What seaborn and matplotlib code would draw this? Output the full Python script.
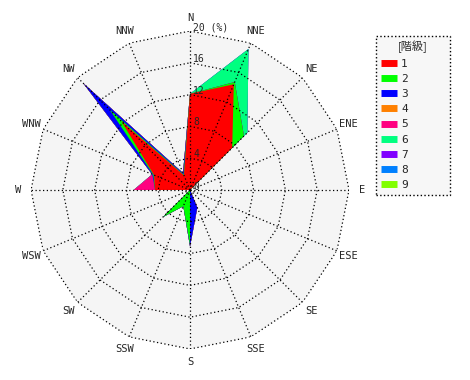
import numpy as np
import pandas as pd
import seaborn as sns
import matplotlib.pyplot as plt
from matplotlib.lines import Line2D
from matplotlib.font_manager import FontProperties

# Directions, clockwise from north
directions = ['N', 'NNE', 'NE', 'ENE', 'E', 'ESE', 'SE', 'SSE',
              'S', 'SSW', 'SW', 'WSW', 'W', 'WNW', 'NW', 'NNW']

# Frequency (%) per wind class and direction
class_1 = [12.1, 14.4, 7.5, 0, 0, 2.3, 0, 0, 0, 0, 4.6, 0, 4.4, 4.9, 12.2, 2.0]
class_2 = [0, 0.3, 2.1, 0, 0, 0, 0, 0, 6.9, 2.2, 0.2, 0, 0, 0.1, 2.1, 0.1]
class_3 = [0, 0, 0, 0, 0, 0, 0, 2.4, 0.2, 0, 0, 0, 0, 0.15, 4.7, 0.2]
class_4 = [0] * 16
class_5 = [0, 0, 0, 0, 0, 0, 0, 0, 0, 0, 0, 0, 2.7, 0, 0, 0]
class_6 = [0, 4.5, 0.6, 0, 0, 0, 0, 0, 0, 0, 0, 0, 0, 0, 0, 0]
class_7 = [0] * 16
class_8 = [0] * 16
class_9 = [0] * 16

class_labels = ['1', '2', '3', '4', '5', '6', '7', '8', '9']
class_colors = ['#ff0000', '#00ff00', '#0000ff', '#ff8000', '#ff0080',
                '#00ff80', '#8000ff', '#0080ff', '#80ff00']
ring_values = [4, 8, 12, 16, 20]
ring_labels = ['4', '8', '12', '16', '20 (%)']

df = pd.DataFrame([class_1, class_2, class_3, class_4, class_5,
                   class_6, class_7, class_8, class_9],
                  index=class_labels, columns=directions)
cum = df.cumsum(axis=0)

sns.set_theme(style='white')
plt.rcParams['font.family'] = ['DejaVu Sans Mono', 'Noto Sans CJK JP']

fig = plt.figure(figsize=(4.7, 3.8), dpi=100)
ax = fig.add_axes([0.066, 0.0816, 0.6766, 0.8368], projection='polar')
ax.set_theta_zero_location('N')
ax.set_theta_direction(-1)
ax.set_ylim(0, 20)
ax.axis('off')

theta = np.deg2rad(np.arange(len(directions)) * 22.5)
theta_c = np.append(theta, theta[0])

# background polygon
ax.fill(theta_c, [20] * len(theta_c), color='#f5f5f5', zorder=0, lw=0)

# stacked areas, outermost first
for lbl, col in reversed(list(zip(class_labels, class_colors))):
    r = cum.loc[lbl].values
    ax.fill(theta_c, np.append(r, r[0]), color=col, lw=0, zorder=1)

# polygon grid
dots = (0, (1, 2))
for rv in ring_values:
    ax.plot(theta_c, [rv] * len(theta_c), color='black', lw=0.9,
            linestyle=dots, zorder=3)
for t in theta:
    ax.plot([t, t], [0, 20], color='black', lw=0.9, linestyle=dots, zorder=3)

for t, d in zip(theta, directions):
    ax.text(t, 21.6, d, ha='center', va='center', fontsize=7.5)

ax.annotate('0', xy=(0, 0), xytext=(3, 3), textcoords='offset pixels',
            ha='left', va='center', fontsize=7, zorder=4)
for rv, rl in zip(ring_values, ring_labels):
    ax.annotate(rl, xy=(0, rv), xytext=(3, 4), textcoords='offset pixels',
                ha='left', va='center', fontsize=7, zorder=4)

handles = [Line2D([0], [0], color=c, lw=5, solid_capstyle='butt')
           for c in class_colors]
leg = fig.legend(handles, class_labels, loc='upper left',
                 bbox_to_anchor=(0.799, 0.487, 0.158, 0.419), mode='expand',
                 title='[階級]', fontsize=8, handlelength=1.45,
                 handletextpad=0.4, labelspacing=0.47, borderpad=0.45,
                 borderaxespad=0, fancybox=False, framealpha=1,
                 title_fontproperties=FontProperties(
                     family=['Noto Sans CJK JP', 'DejaVu Sans'], size=8))
frame = leg.get_frame()
frame.set_facecolor('#f7f7f7')
frame.set_edgecolor('black')
frame.set_linestyle(':')
frame.set_linewidth(1)

fig.savefig('out.png', dpi=100)
